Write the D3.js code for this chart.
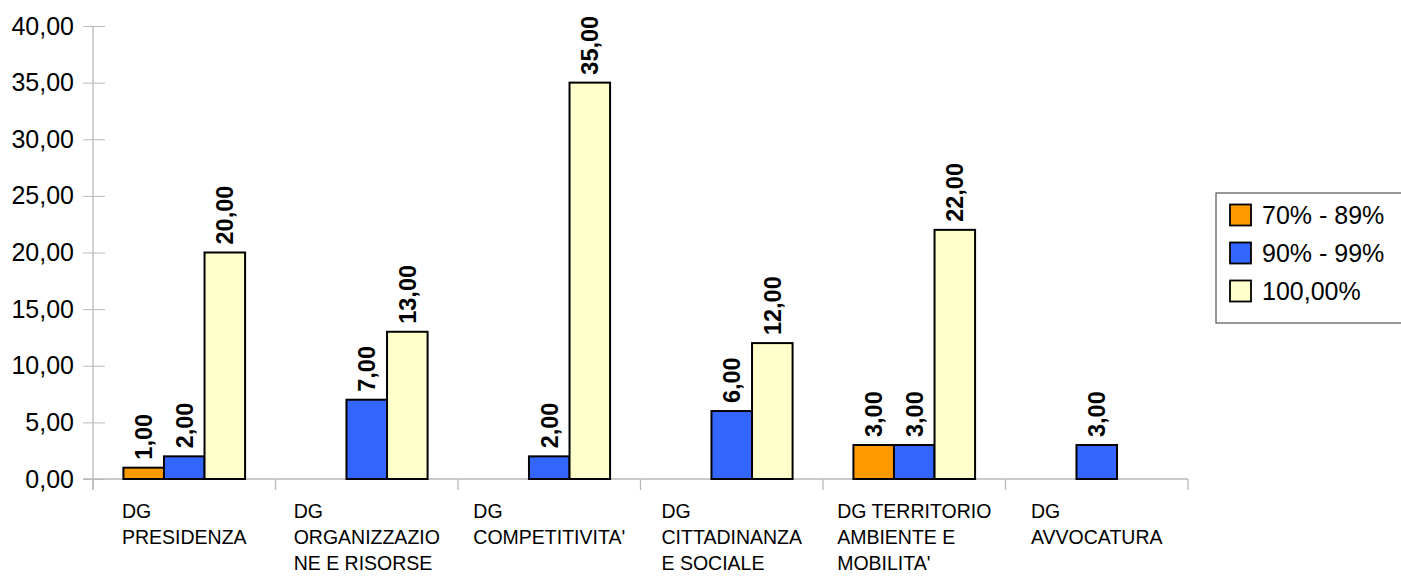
<!DOCTYPE html>
<html>
<head>
<meta charset="utf-8">
<script src="https://cdn.jsdelivr.net/npm/d3@7"></script>
<style>
  html, body { margin: 0; padding: 0; background: #fff; }
  svg { display: block; font-family: "Liberation Sans", Arial, sans-serif; }
</style>
</head>
<body>
<svg id="chart" width="1401" height="576"></svg>
<script>
const categories = ["DG PRESIDENZA", "DG ORGANIZZAZIONE E RISORSE", "DG COMPETITIVITA'", "DG CITTADINANZA E SOCIALE", "DG TERRITORIO AMBIENTE E MOBILITA'", "DG AVVOCATURA"];
const categoryLines = [
  ["DG", "PRESIDENZA"],
  ["DG", "ORGANIZZAZIO", "NE E RISORSE"],
  ["DG", "COMPETITIVITA'"],
  ["DG", "CITTADINANZA", "E SOCIALE"],
  ["DG TERRITORIO", "AMBIENTE E", "MOBILITA'"],
  ["DG", "AVVOCATURA"]
];
const seriesNames = ["70% - 89%", "90% - 99%", "100,00%"];
const series70 = [1, null, null, null, 3, null];
const series90 = [2, 7, 2, 6, 3, 3];
const series100 = [20, 13, 35, 12, 22, null];
const seriesColors = ["#FF9900", "#3366FF", "#FFFFCC"];
const yTicks = [0, 5, 10, 15, 20, 25, 30, 35, 40];

const allSeries = [series70, series90, series100];
const svg = d3.select("#chart");
const fmt = v => v.toFixed(2).replace(".", ",");

const y = d3.scaleLinear().domain([0, 40]).range([479, 26]);
const x = d3.scaleBand().domain(categories).range([93, 1188]).paddingInner(0).paddingOuter(0);
const xs = d3.scaleBand().domain(seriesNames).range([0, x.bandwidth()]).paddingInner(0).paddingOuter(0.75);

const axisColor = "#b8b8b8";

// Y axis
const yAxis = d3.axisLeft(y).tickValues(yTicks).tickSize(0).tickFormat(fmt);
const yg = svg.append("g").attr("transform", "translate(93,0)").call(yAxis);
yg.select(".domain").remove();
yg.selectAll(".tick text").attr("x", -19).attr("font-size", 25).attr("fill", "#000")
  .attr("font-family", "Liberation Sans, Arial, sans-serif");
yg.selectAll(".tick").append("line").attr("x1", -10).attr("x2", 12).attr("stroke", axisColor).attr("stroke-width", 1);
svg.append("line").attr("x1", 93).attr("x2", 93).attr("y1", y(40)).attr("y2", 490)
  .attr("stroke", axisColor).attr("stroke-width", 1.3);

// X axis line and boundary ticks
svg.append("line").attr("x1", 83).attr("x2", 1188).attr("y1", y(0)).attr("y2", y(0))
  .attr("stroke", axisColor).attr("stroke-width", 1.3);
const boundaries = categories.map(c => x(c)).concat([x(categories[categories.length - 1]) + x.bandwidth()]);
svg.append("g").selectAll("line").data(boundaries).join("line")
  .attr("x1", d => d).attr("x2", d => d).attr("y1", y(0)).attr("y2", 490)
  .attr("stroke", axisColor).attr("stroke-width", 1.3);

// Bars
const barData = [];
categories.forEach((c, i) => {
  seriesNames.forEach((s, j) => {
    const v = allSeries[j][i];
    if (v != null) barData.push({ c, s, v, color: seriesColors[j] });
  });
});
const bars = svg.append("g");
bars.selectAll("rect").data(barData).join("rect")
  .attr("x", d => x(d.c) + xs(d.s))
  .attr("y", d => y(d.v))
  .attr("width", xs.bandwidth())
  .attr("height", d => y(0) - y(d.v))
  .attr("fill", d => d.color)
  .attr("stroke", "#000")
  .attr("stroke-width", 2);

// Value labels
svg.append("g").selectAll("text").data(barData).join("text")
  .attr("transform", d => `translate(${x(d.c) + xs(d.s) + xs.bandwidth() / 2 + 8.5},${y(d.v) - 8}) rotate(-90)`)
  .attr("text-anchor", "start")
  .attr("font-size", 23.5)
  .attr("font-weight", "bold")
  .attr("fill", "#000")
  .text(d => fmt(d.v));

// Category labels (centered block, left aligned lines)
const labG = svg.append("g");
categories.forEach((c, i) => {
  const g = labG.append("g");
  const t = g.append("text").attr("font-size", 19.5).attr("fill", "#000");
  categoryLines[i].forEach((ln, k) => {
    t.append("tspan").attr("x", 0).attr("y", 518 + k * 26).text(ln);
  });
  let maxW = 0;
  t.selectAll("tspan").each(function () { maxW = Math.max(maxW, this.getComputedTextLength()); });
  const cx = x(c) + x.bandwidth() / 2;
  g.attr("transform", `translate(${cx - maxW / 2},0)`);
});

// Legend
const lg = svg.append("g");
lg.append("rect").attr("x", 1216).attr("y", 193).attr("width", 200).attr("height", 130)
  .attr("fill", "#fff").attr("stroke", "#555").attr("stroke-width", 1.2);
seriesNames.forEach((s, j) => {
  const cy = 215 + j * 38;
  lg.append("rect").attr("x", 1230).attr("y", cy - 10.5).attr("width", 21).attr("height", 21)
    .attr("fill", seriesColors[j]).attr("stroke", "#000").attr("stroke-width", 1.8);
  lg.append("text").attr("x", 1262).attr("y", cy).attr("dy", "0.35em")
    .attr("font-size", 25).attr("fill", "#000").text(s);
});
</script>
</body>
</html>
